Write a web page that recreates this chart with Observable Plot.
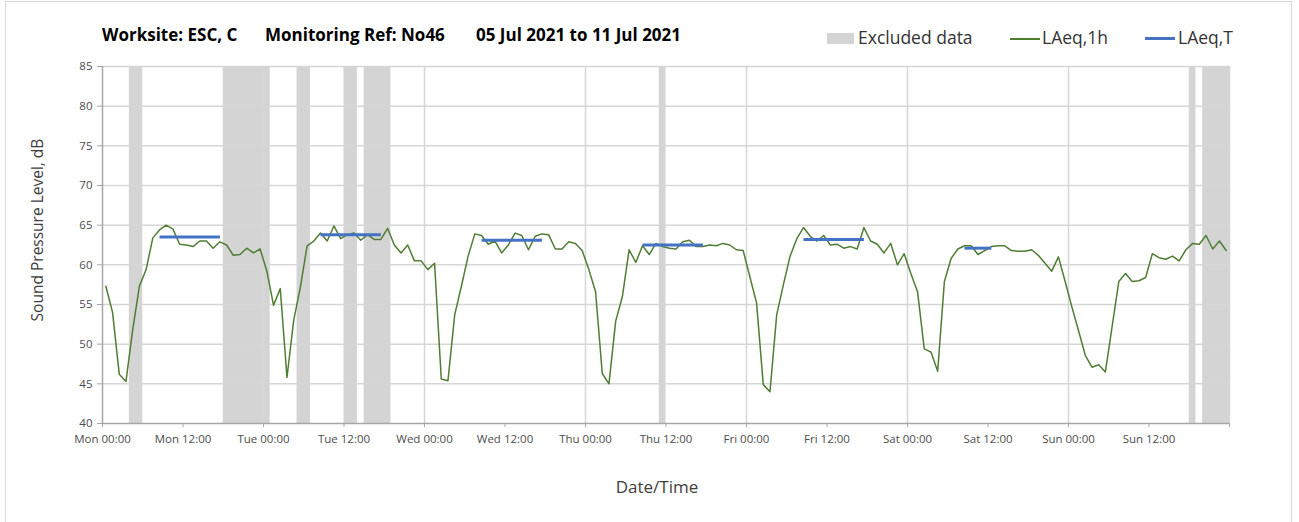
<!DOCTYPE html>
<html>
<head>
<meta charset="utf-8">
<script src="https://cdn.jsdelivr.net/npm/d3@7"></script>
<script src="https://cdn.jsdelivr.net/npm/@observablehq/plot@0.6"></script>
<style>
  html, body { margin: 0; padding: 0; background: #fff; }
  body { width: 1299px; height: 522px; position: relative; overflow: hidden; font-family: "Open Sans", sans-serif; }
  #frame { position: absolute; left: 5px; top: 1px; width: 1285px; height: 560px; border: 1px solid #d9d9d9; }
  .t { position: absolute; white-space: nowrap; line-height: 1; }
  .title { font-weight: bold; font-size: 17px; color: #000; top: 26px; }
  .leg { font-size: 17.5px; color: #333; top: 29px; }
  .sw { position: absolute; }
  #chart { position: absolute; left: 0; top: 50px; }
  .axlab { color: #404040; }
</style>
</head>
<body>
<div id="frame"></div>
<div class="t title" style="left:102px">Worksite: ESC, C</div>
<div class="t title" style="left:265px">Monitoring Ref: No46</div>
<div class="t title" style="left:476px">05 Jul 2021 to 11 Jul 2021</div>

<div class="sw" style="left:827px;top:33px;width:27px;height:11px;background:#d4d4d4"></div>
<div class="t leg" style="left:858px">Excluded data</div>
<div class="sw" style="left:1010px;top:38px;width:30px;height:2px;background:#507d34"></div>
<div class="t leg" style="left:1042px">LAeq,1h</div>
<div class="sw" style="left:1145px;top:37px;width:30px;height:3px;background:#4472C4"></div>
<div class="t leg" style="left:1178px">LAeq,T</div>

<div class="t axlab" style="left:38px;top:230px;font-size:15.5px;transform:translate(-50%,-50%) rotate(-90deg)">Sound Pressure Level, dB</div>
<div class="t axlab" style="left:657px;top:486px;font-size:17px;transform:translate(-50%,-50%)">Date/Time</div>

<div id="chart"></div>
<script>
// Hourly LAeq,1h values, Mon 00:00 (hour 0) to Sun 23:00 (hour 167)
const laeq1h = [
  // Mon
  57.3, 54.0, 46.2, 45.3, 51.8, 57.3, 59.4, 63.4, 64.4, 65.0, 64.5, 62.6,
  62.5, 62.3, 63.0, 63.0, 62.1, 62.9, 62.5, 61.2, 61.3, 62.1, 61.5, 62.0,
  // Tue
  59.2, 54.9, 57.0, 45.8, 53.0, 57.2, 62.4, 63.0, 64.0, 63.0, 64.9, 63.3,
  63.8, 64.0, 63.1, 63.8, 63.2, 63.2, 64.6, 62.5, 61.5, 62.5, 60.5, 60.5,
  // Wed
  59.4, 60.2, 45.6, 45.4, 53.7, 57.3, 61.1, 63.9, 63.7, 62.6, 63.0, 61.5,
  62.5, 64.0, 63.7, 61.9, 63.6, 63.9, 63.8, 62.0, 62.0, 62.9, 62.7, 61.8,
  // Thu
  59.4, 56.6, 46.3, 45.0, 52.9, 56.0, 61.9, 60.3, 62.4, 61.3, 62.7, 62.3,
  62.1, 62.0, 62.9, 63.1, 62.3, 62.3, 62.5, 62.4, 62.7, 62.5, 61.9, 61.8,
  // Fri
  58.5, 55.2, 44.9, 44.0, 53.7, 57.5, 61.1, 63.3, 64.7, 63.6, 63.0, 63.7,
  62.5, 62.6, 62.1, 62.3, 62.0, 64.7, 63.0, 62.6, 61.5, 62.7, 60.0, 61.4,
  // Sat
  58.9, 56.6, 49.4, 49.0, 46.6, 57.9, 60.8, 62.0, 62.4, 62.4, 61.3, 61.8,
  62.3, 62.4, 62.4, 61.8, 61.7, 61.7, 61.9, 61.2, 60.2, 59.2, 61.0, 57.9,
  // Sun
  54.7, 51.7, 48.6, 47.1, 47.4, 46.5, 52.2, 57.9, 58.9, 57.9, 58.0, 58.4,
  61.4, 60.9, 60.7, 61.1, 60.5, 61.9, 62.7, 62.6, 63.7, 62.0, 63.0, 61.8
];

// Excluded data periods (hours from Mon 00:00)
const excludedStart = [4, 18, 29, 36, 39, 83, 162, 164];
const excludedEnd   = [6, 25, 31, 38, 43, 84, 163, 168];

// LAeq,T daytime periods (hours from Mon 00:00) and values
const ltStart = [8.5, 32.5, 56.5, 80.5, 104.5, 128.5];
const ltEnd   = [17.5, 41.5, 65.5, 89.5, 113.5, 132.5];
const ltValue = [63.5, 63.8, 63.1, 62.5, 63.2, 62.1];

// Axis ticks
const xTickHours = [0, 12, 24, 36, 48, 60, 72, 84, 96, 108, 120, 132, 144, 156, 168];
const xTickLabels = ["Mon 00:00", "Mon 12:00", "Tue 00:00", "Tue 12:00", "Wed 00:00", "Wed 12:00",
  "Thu 00:00", "Thu 12:00", "Fri 00:00", "Fri 12:00", "Sat 00:00", "Sat 12:00",
  "Sun 00:00", "Sun 12:00", ""];
const dayGridHours = [24, 48, 72, 96, 120, 144, 168];
const yTicks = [40, 45, 50, 55, 60, 65, 70, 75, 80, 85];
const yGrid = [45, 50, 55, 60, 65, 70, 75, 80, 85];

const series = laeq1h.map((v, i) => ({hour: i + 0.5, value: v}));
const excluded = excludedStart.map((s, i) => ({start: s, end: excludedEnd[i]}));
const lt = ltStart.map((s, i) => ({start: s, end: ltEnd[i], value: ltValue[i]}));

const chart = Plot.plot({
  width: 1299,
  height: 472,
  marginLeft: 102,
  marginRight: 70,
  marginTop: 16,
  marginBottom: 99,
  style: {fontFamily: "Open Sans, sans-serif", fontSize: "11.5px", background: "transparent", overflow: "visible"},
  x: {domain: [0, 168], label: null},
  y: {domain: [40, 85], label: null},
  marks: [
    Plot.rect(excluded, {x1: "start", x2: "end", fill: "#d4d4d4"}),
    Plot.gridY(yGrid, {stroke: "#d6d6d6", strokeOpacity: 1, strokeWidth: 1.5}),
    Plot.gridX(dayGridHours, {stroke: "#d6d6d6", strokeOpacity: 1, strokeWidth: 1.5}),
    Plot.ruleY([40], {stroke: "#a6a6a6", strokeWidth: 1.5}),
    Plot.ruleX([0], {stroke: "#a6a6a6", strokeWidth: 1.5}),
    Plot.axisX(xTickHours, {
      tickFormat: (d) => xTickLabels[xTickHours.indexOf(d)],
      tickSize: 4, tickPadding: 7, stroke: "#a6a6a6", fill: "#4d4d4d", label: null
    }),
    Plot.axisY(yTicks, {
      tickSize: 5, tickPadding: 5, stroke: "#a6a6a6", fill: "#4d4d4d", label: null
    }),
    Plot.line(series, {x: "hour", y: "value", stroke: "#507d34", strokeWidth: 1.5}),
    Plot.link(lt, {x1: "start", x2: "end", y1: "value", y2: "value", stroke: "#4472C4", strokeWidth: 3})
  ]
});
document.getElementById("chart").appendChild(chart);
</script>
</body>
</html>
